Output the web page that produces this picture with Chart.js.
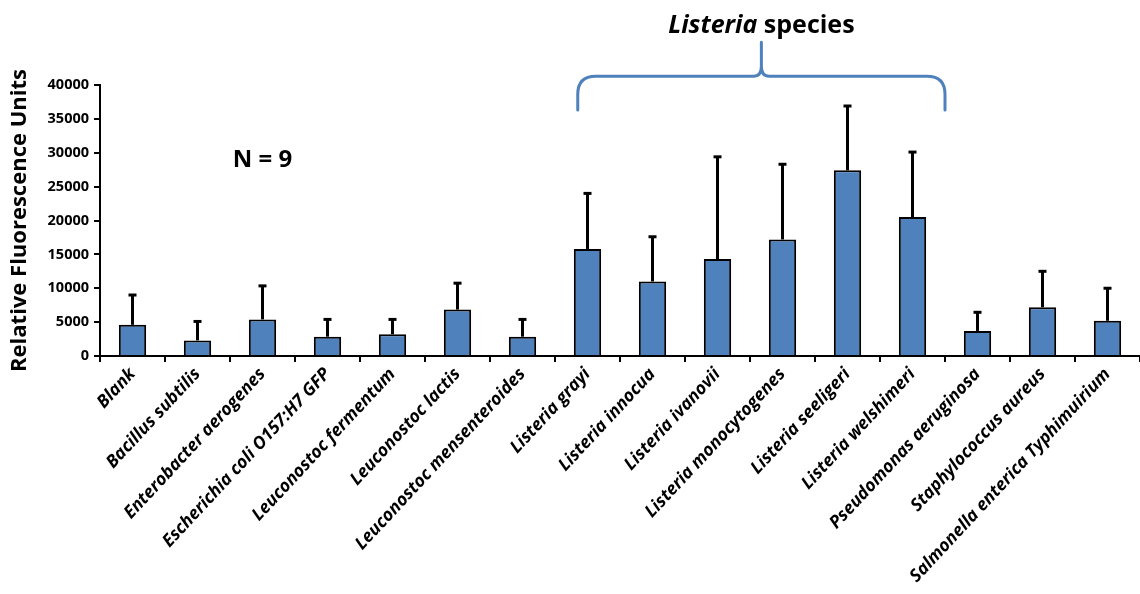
<!DOCTYPE html>
<html>
<head>
<meta charset="utf-8">
<script src="https://cdn.jsdelivr.net/npm/chart.js@4.4.1/dist/chart.umd.min.js"></script>
<style>
  html, body { margin: 0; padding: 0; background: #ffffff; }
  #wrap { width: 1140px; height: 594px; position: relative; }
</style>
</head>
<body>
<div id="wrap"><canvas id="c" width="1140" height="594"></canvas></div>
<script>
const categories = [
  "Blank", "Bacillus subtilis", "Enterobacter aerogenes", "Escherichia coli O157:H7 GFP",
  "Leuconostoc fermentum", "Leuconostoc lactis", "Leuconostoc mensenteroides",
  "Listeria grayi", "Listeria innocua", "Listeria ivanovii", "Listeria monocytogenes",
  "Listeria seeligeri", "Listeria welshimeri", "Pseudomonas aeruginosa",
  "Staphylococcus aureus", "Salmonella enterica Typhimuirium"
];
const meanRFU = [4600, 2300, 5400, 2850, 3200, 6850, 2850, 15800, 11000, 14300, 17200, 27400, 20500, 3700, 7200, 5200];
const sdRFU   = [4400, 2800, 4950, 2550, 2200, 3900, 2550, 8200, 6600, 15100, 11100, 9500, 9600, 2750, 5300, 4800];
const yTicks = [0, 5000, 10000, 15000, 20000, 25000, 30000, 35000, 40000];
const groupTitleItalic = "Listeria";
const groupTitleRest = " species";
const groupFirst = 7, groupLast = 12;
const nLabel = "N = 9";

const FONT = "'Open Sans', Lato, sans-serif";

const errorBarPlugin = {
  id: 'errorBars',
  afterDatasetsDraw(chart) {
    const ctx = chart.ctx;
    const meta = chart.getDatasetMeta(0);
    const y = chart.scales.y;
    ctx.save();
    ctx.strokeStyle = '#000';
    ctx.lineWidth = 3;
    meta.data.forEach((bar, i) => {
      const top = y.getPixelForValue(meanRFU[i] + sdRFU[i]);
      const base = bar.y;
      ctx.beginPath();
      ctx.moveTo(bar.x, base);
      ctx.lineTo(bar.x, top);
      ctx.stroke();
      ctx.beginPath();
      ctx.moveTo(bar.x - 4, top);
      ctx.lineTo(bar.x + 4, top);
      ctx.stroke();
    });
    ctx.restore();
  }
};

const annotPlugin = {
  id: 'annot',
  afterDraw(chart) {
    const ctx = chart.ctx;
    const x = chart.scales.x, y = chart.scales.y;
    ctx.save();
    // N = 9
    ctx.fillStyle = '#000';
    ctx.font = "bold 24px " + FONT;
    ctx.textAlign = 'center';
    ctx.textBaseline = 'middle';
    ctx.fillText(nLabel, x.getPixelForValue(2), y.getPixelForValue(28900));

    // brace
    const l = x.getPixelForValue(groupFirst - 0.15);
    const r = x.getPixelForValue(groupLast + 0.5);
    const m = (l + r) / 2;
    const yEnd = y.getPixelForValue(36300);
    const yBar = y.getPixelForValue(41300);
    const yCusp = y.getPixelForValue(46300);
    const rad = 18;
    ctx.strokeStyle = '#4F81BD';
    ctx.lineWidth = 3;
    ctx.lineCap = 'round';
    ctx.beginPath();
    ctx.moveTo(l, yEnd);
    ctx.lineTo(l, yBar + rad);
    ctx.quadraticCurveTo(l, yBar, l + rad, yBar);
    ctx.lineTo(m - 8, yBar);
    ctx.quadraticCurveTo(m, yBar, m, yBar - 10);
    ctx.lineTo(m, yCusp);
    ctx.moveTo(m, yBar - 10);
    ctx.quadraticCurveTo(m, yBar, m + 8, yBar);
    ctx.lineTo(r - rad, yBar);
    ctx.quadraticCurveTo(r, yBar, r, yBar + rad);
    ctx.lineTo(r, yEnd);
    ctx.stroke();

    // group title
    const ty = y.getPixelForValue(48800);
    const fI = "italic bold 25px " + FONT;
    const fR = "bold 25px " + FONT;
    ctx.font = fI; const wI = ctx.measureText(groupTitleItalic).width;
    ctx.font = fR; const wR = ctx.measureText(groupTitleRest).width;
    let sx = m - (wI + wR) / 2;
    ctx.textAlign = 'left';
    ctx.font = fI; ctx.fillText(groupTitleItalic, sx, ty);
    ctx.font = fR; ctx.fillText(groupTitleRest, sx + wI, ty);
    ctx.restore();
  }
};

new Chart(document.getElementById('c'), {
  type: 'bar',
  data: {
    labels: categories,
    datasets: [{
      data: meanRFU,
      backgroundColor: '#4F81BD',
      borderColor: '#000000',
      borderWidth: 2,
      barPercentage: 0.42,
      categoryPercentage: 1.0
    }]
  },
  options: {
    responsive: false,
    animation: false,
    devicePixelRatio: 1,
    layout: { padding: { top: 85, right: 0, left: 0, bottom: 0 } },
    plugins: { legend: { display: false }, tooltip: { enabled: false }, title: { display: false } },
    scales: {
      x: {
        grid: { display: true, drawOnChartArea: false, offset: true, color: '#000', lineWidth: 2, tickLength: 6 },
        border: { display: true, color: '#000', width: 2 },
        ticks: {
          autoSkip: false, minRotation: 47, maxRotation: 47, color: '#000', padding: 2,
          font: { family: FONT, size: 17.5, weight: 'bold', style: 'italic' }
        },
        afterFit(s) { s.height = 238; }
      },
      y: {
        min: 0, max: 40000,
        afterBuildTicks(s) { s.ticks = yTicks.map(v => ({ value: v })); },
        grid: { display: true, drawOnChartArea: false, color: '#000', lineWidth: 2, tickLength: 6 },
        border: { display: true, color: '#000', width: 2 },
        ticks: {
          color: '#000', padding: 5,
          font: { family: FONT, size: 14.5, weight: 'bold' },
          callback: v => String(v)
        },
        title: {
          display: true, text: 'Relative Fluorescence Units', color: '#000',
          font: { family: FONT, size: 22, weight: 'bold' }, padding: { top: 7, bottom: 2 }
        },
        afterFit(s) { s.width = 100; }
      }
    }
  },
  plugins: [errorBarPlugin, annotPlugin]
});
</script>
</body>
</html>
